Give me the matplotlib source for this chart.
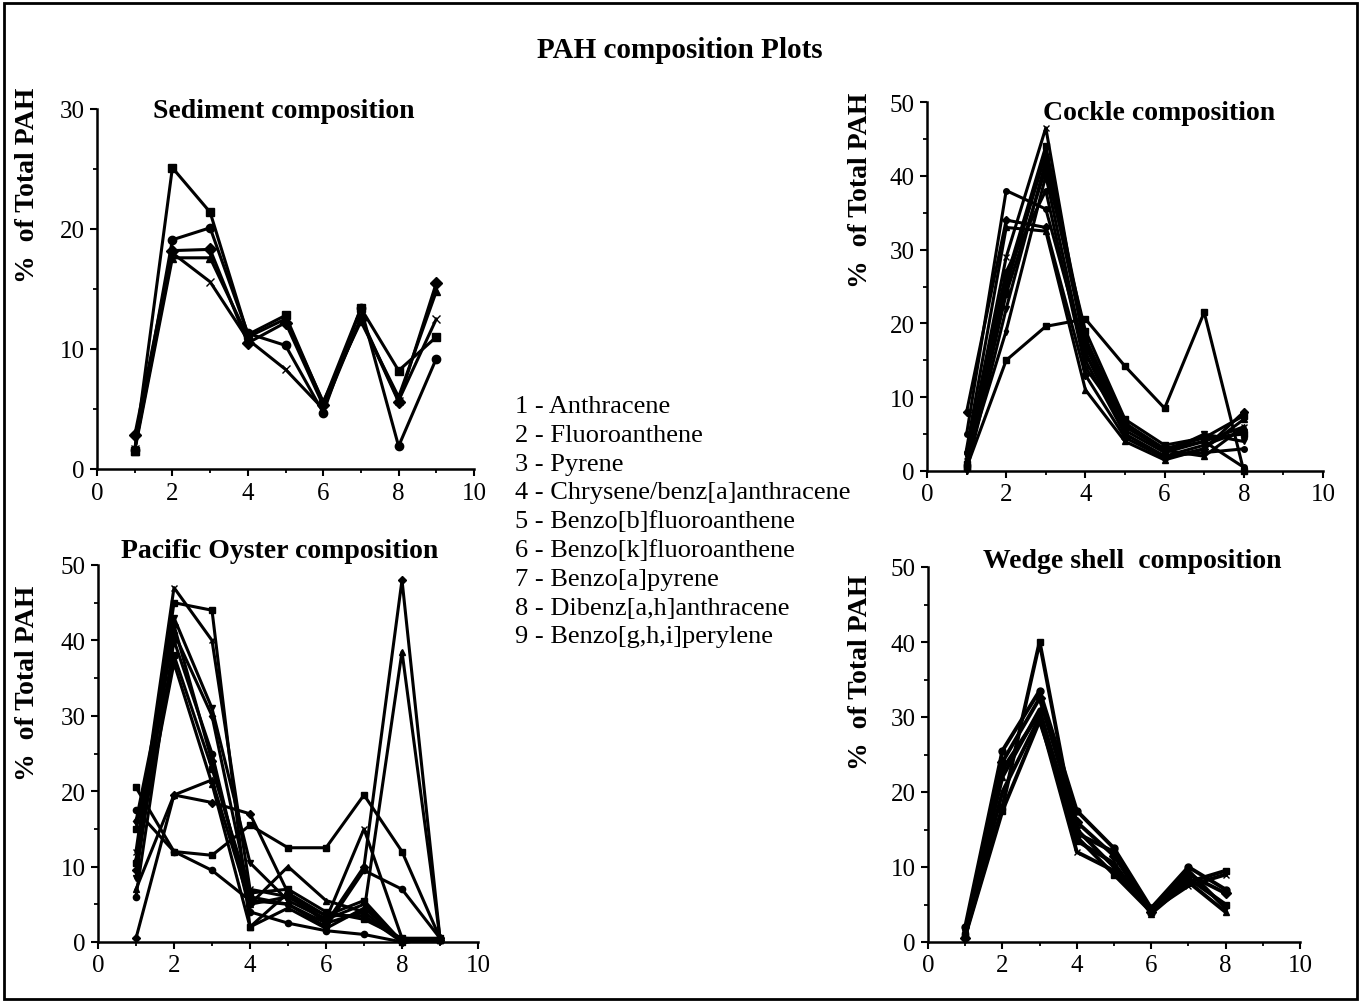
import matplotlib
matplotlib.use('Agg')
import matplotlib.pyplot as plt
from matplotlib.patches import Rectangle
from matplotlib.ticker import MultipleLocator
import numpy as np

plt.rcParams['font.family'] = ['Liberation Serif', 'DejaVu Serif']

# PAH numbers (x positions) and legend names
pah_names = ['Anthracene', 'Fluoroanthene', 'Pyrene', 'Chrysene/benz[a]anthracene',
             'Benzo[b]fluoroanthene', 'Benzo[k]fluoroanthene', 'Benzo[a]pyrene',
             'Dibenz[a,h]anthracene', 'Benzo[g,h,i]perylene']

# Sediment: % of total PAH, compounds 1..9
sediment_x = [1, 2, 3, 4, 5, 6, 7, 8, 9]
sediment = [
    [1.5, 25.1, 21.4, 11.2, 12.8, 5.5, 13.4, 8.2, 11.0],
    [1.6, 19.1, 20.1, 11.3, 10.3, 4.7, 13.4, 1.9, 9.2],
    [2.8, 18.2, 18.3, 10.5, 12.2, 5.3, 12.5, 5.6, 15.5],
    [1.5, 17.6, 17.6, 11.0, 12.5, 5.6, 12.3, 6.0, 14.8],
    [1.7, 18.0, 15.6, 10.8, 8.3, 5.0, 12.6, 5.7, 12.5],
]

# Cockle: compounds 1..8
cockle_x = [1, 2, 3, 4, 5, 6, 7, 8]
cockle = [
    [0.5, 15.0, 19.6, 20.6, 14.2, 8.5, 21.5, 0.0],
    [5.0, 38.0, 35.5, 16.0, 5.0, 2.0, 2.5, 3.0],
    [8.0, 34.0, 33.0, 13.0, 4.5, 1.8, 3.0, 8.0],
    [3.0, 33.0, 32.5, 11.0, 4.0, 1.5, 3.0, 7.0],
    [2.0, 29.0, 46.5, 16.0, 6.0, 3.0, 4.0, 6.0],
    [1.0, 26.0, 44.0, 18.0, 6.5, 3.0, 4.5, 5.0],
    [0.0, 22.0, 42.0, 17.0, 5.5, 2.5, 5.0, 4.0],
    [1.5, 19.0, 40.0, 15.0, 5.0, 2.0, 3.5, 5.5],
    [2.5, 27.0, 38.0, 14.0, 6.5, 2.5, 4.0, 0.5],
    [0.5, 24.0, 41.0, 19.0, 7.0, 3.5, 4.5, 7.5],
    [1.0, 25.0, 43.0, 17.5, 6.0, 2.8, 2.0, 6.0],
]

# Pacific oyster: compounds 1..9
oyster_x = [1, 2, 3, 4, 5, 6, 7, 8, 9]
oyster = [
    [20.5, 12.0, 11.5, 15.5, 12.5, 12.5, 19.5, 12.0, 0.5],
    [17.5, 12.0, 9.5, 5.5, 5.0, 2.0, 9.5, 7.0, 0.5],
    [0.5, 19.5, 18.5, 17.0, 6.5, 2.5, 10.0, 48.0, 0.5],
    [7.0, 19.5, 21.5, 5.0, 10.0, 5.5, 4.0, 38.5, 0.5],
    [12.0, 47.0, 40.0, 7.0, 6.0, 3.0, 15.0, 0.5, 0.5],
    [10.5, 45.0, 44.0, 2.0, 6.5, 3.5, 5.5, 0.0, 0.3],
    [8.5, 43.0, 31.0, 10.5, 5.5, 3.0, 5.0, 0.0, 0.3],
    [16.0, 41.0, 30.0, 6.0, 5.0, 2.5, 4.0, 0.0, 0.3],
    [6.0, 40.0, 25.0, 4.0, 2.5, 1.5, 1.0, 0.0, 0.3],
    [15.0, 38.0, 23.0, 6.5, 7.0, 4.0, 3.0, 0.5, 0.3],
    [11.0, 37.0, 21.0, 2.0, 4.5, 1.8, 4.5, 0.2, 0.3],
    [9.5, 42.0, 24.0, 5.0, 6.0, 3.5, 3.5, 0.0, 0.3],
]

# Wedge shell: compounds 1..8
wedge_x = [1, 2, 3, 4, 5, 6, 7, 8]
wedge = [
    [1.0, 18.0, 40.0, 14.0, 9.0, 4.0, 8.0, 9.5],
    [2.0, 25.5, 33.5, 17.5, 12.5, 4.5, 10.0, 7.0],
    [0.5, 24.0, 32.5, 16.0, 11.5, 4.0, 9.0, 6.5],
    [1.5, 22.0, 31.0, 13.5, 10.5, 3.8, 8.0, 4.0],
    [1.0, 20.0, 30.0, 12.0, 9.5, 4.2, 7.5, 9.0],
    [0.8, 17.5, 29.5, 14.5, 12.0, 4.0, 8.5, 5.0],
    [1.2, 23.0, 30.5, 15.0, 10.0, 4.5, 9.5, 4.5],
]

W, H = 1361, 1003
fig = plt.figure(figsize=(W / 100, H / 100), dpi=100)

def px(x, y):
    # pixel coords (origin top-left) -> figure fraction
    return x / W, 1 - y / H

def make_ax(left, top, right, bottom, ymax, ymajor):
    x0, y0 = px(left, bottom)
    x1, y1 = px(right, top)
    ax = fig.add_axes([x0, y0, x1 - x0, y1 - y0])
    ax.set_xlim(0, 10)
    ax.set_ylim(0, ymax)
    ax.spines['top'].set_visible(False)
    ax.spines['right'].set_visible(False)
    for s in ['left', 'bottom']:
        ax.spines[s].set_linewidth(1.8)
    ax.xaxis.set_major_locator(MultipleLocator(2))
    ax.xaxis.set_minor_locator(MultipleLocator(1))
    ax.yaxis.set_major_locator(MultipleLocator(ymajor))
    ax.yaxis.set_minor_locator(MultipleLocator(ymajor / 2))
    ax.tick_params(which='major', direction='out', length=5, width=1.5, labelsize=18, pad=4)
    ax.tick_params(which='minor', direction='out', length=3, width=1.3)
    ax.patch.set_alpha(0)
    return ax

markers = ['s', 'o', 'D', '^', 'x', 's', 'v', 'd', 'o', 's', '^', 'D']

def draw(ax, xs, series, lw, ms):
    for i, ys in enumerate(series):
        ax.plot(xs, ys, color='black', lw=lw, marker=markers[i % len(markers)],
                ms=ms, mfc='black', mec='black', clip_on=False)

ax1 = make_ax(97, 110, 474, 470, 30, 10)
draw(ax1, sediment_x, sediment, 2.2, 6)
ax2 = make_ax(927, 103, 1323, 472, 50, 10)
draw(ax2, cockle_x, cockle, 2.2, 4)
ax3 = make_ax(98, 566, 478, 943, 50, 10)
draw(ax3, oyster_x, oyster, 2.2, 4.5)
ax4 = make_ax(928, 568, 1300, 943, 50, 10)
draw(ax4, wedge_x, wedge, 2.8, 5)

# titles and labels
fig.text(*px(680, 50), 'PAH composition Plots', ha='center', va='center',
         fontsize=21, fontweight='bold')
titles = [('Sediment composition', 284, 112), ('Cockle composition', 1159, 113),
          ('Pacific Oyster composition', 280, 551), ('Wedge shell  composition', 1132, 562)]
for t, x, y in titles:
    fig.text(*px(x, y), t, ha='center', va='center', fontsize=20, fontweight='bold')

for x, y in [(28, 185), (860, 190), (28, 683), (860, 672)]:
    fig.text(*px(x, y), '%  of Total PAH', ha='center', va='center', rotation=90,
             fontsize=20, fontweight='bold')

for i, name in enumerate(pah_names):
    fig.text(*px(515, 407 + i * 28.8), '%d - %s' % (i + 1, name), ha='left', va='center',
             fontsize=19)

# outer frame
fig.patches.append(Rectangle((0.003, 0.003), 0.994, 0.993, transform=fig.transFigure,
                             fill=False, edgecolor='black', lw=2))

plt.savefig('out.png', dpi=100)
